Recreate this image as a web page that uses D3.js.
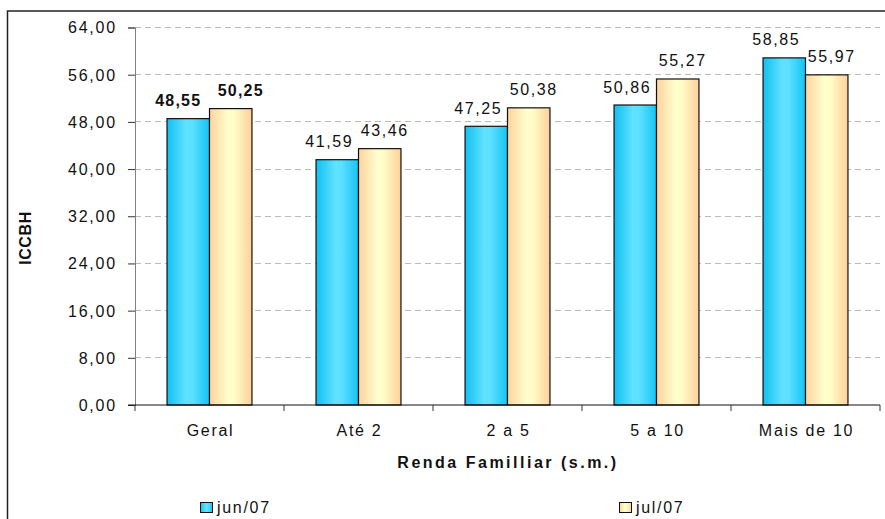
<!DOCTYPE html>
<html><head><meta charset="utf-8">
<script src="https://cdn.jsdelivr.net/npm/d3@7"></script>
<style>body{margin:0;background:#fff}svg{display:block}text{font-family:"Liberation Sans",Arial,sans-serif}</style>
</head><body>
<svg id="c" width="885" height="519"></svg>
<script>
const categories = ["Geral", "Até 2", "2 a 5", "5 a 10", "Mais de 10"];
const seriesNames = ["jun/07", "jul/07"];
const jun07 = [48.55, 41.59, 47.25, 50.86, 58.85];
const jul07 = [50.25, 43.46, 50.38, 55.27, 55.97];
const yTicks = [0, 8, 16, 24, 32, 40, 48, 56, 64];
const yLabel = "ICCBH";
const xLabel = "Renda Familliar (s.m.)";

const svg = d3.select("#c");
const defs = svg.append("defs");
function grad(id, stops){
  const g = defs.append("linearGradient").attr("id", id).attr("x1","0").attr("x2","1").attr("y1","0").attr("y2","0");
  stops.forEach(s => g.append("stop").attr("offset", s[0]).attr("stop-color", s[1]));
}
grad("gJun", [[0,"#12bff0"],[0.45,"#5fe2ff"],[0.6,"#5ce0ff"],[1,"#14c4f4"]]);
grad("gJul", [[0,"#ffd39e"],[0.45,"#ffffcc"],[0.6,"#fffcc6"],[1,"#ffcf9a"]]);
const fills = ["url(#gJun)", "url(#gJul)"];

// frame
svg.append("rect").attr("x",7.5).attr("y",11).attr("width",890).attr("height",520)
  .attr("fill","none").attr("stroke","#222").attr("stroke-width",1.5);

const y = d3.scaleLinear().domain([0,64]).range([405,27.5]);
const x0 = d3.scaleBand().domain(categories).range([135,880]).padding(0);
const bw = x0.bandwidth();
const x1 = d3.scaleBand().domain(seriesNames).range([bw*0.215, bw*0.785]).padding(0);

// grid
svg.append("g").selectAll("line").data(yTicks.filter(t=>t>0)).join("line")
  .attr("x1",135).attr("x2",880).attr("y1",d=>y(d)).attr("y2",d=>y(d))
  .attr("stroke","#bbb").attr("stroke-dasharray","6,4").attr("shape-rendering","crispEdges");

// y axis
const yAxis = d3.axisLeft(y).tickValues(yTicks).tickSize(7).tickPadding(11)
  .tickFormat(d => d3.format(".2f")(d).replace(".", ","));
const gy = svg.append("g").attr("transform","translate(135,0)").call(yAxis);
gy.select(".domain").attr("stroke","#808080");
gy.selectAll(".tick line").attr("stroke","#333");
gy.selectAll(".tick text").attr("font-size",16).attr("letter-spacing","1.8px")
  .attr("font-family","'Liberation Sans',Arial,sans-serif").attr("fill","#111").attr("dy","0.34em");

// bars
const data = categories.map((c,i)=>({c, v:[jun07[i], jul07[i]]}));
const groups = svg.append("g").selectAll("g").data(data).join("g")
  .attr("transform", d => `translate(${x0(d.c)},0)`);
groups.selectAll("rect").data((d)=>d.v.map((v,j)=>({v,j}))).join("rect")
  .attr("x", d=>x1(seriesNames[d.j])).attr("width", x1.bandwidth())
  .attr("y", d=>y(d.v)).attr("height", d=>y(0)-y(d.v))
  .attr("fill", d=>fills[d.j]).attr("stroke","#111").attr("stroke-width",1.2);
// label nudges (to keep adjacent labels apart, like the original)
const labelShift = [-8, 5];
groups.selectAll("text").data((d,i)=>d.v.map((v,j)=>({v,j,i}))).join("text")
  .attr("x", d=>x1(seriesNames[d.j]) + x1.bandwidth()/2 + labelShift[d.j] + (d.i===0 ? (d.j? 5 : -2) : 0))
  .attr("y", d=>y(d.v)-12.5)
  .attr("text-anchor","middle").attr("font-size",16).attr("letter-spacing", d=>d.i===0 ? "1.2px" : "1.6px")
  .attr("font-weight", d=>d.i===0 ? "bold" : "normal").attr("fill","#111")
  .text(d=>d3.format(".2f")(d.v).replace(".", ","));

// x axis
const gx = svg.append("g").attr("transform","translate(0,405)");
gx.append("line").attr("x1",128).attr("x2",880).attr("y1",0).attr("y2",0).attr("stroke","#111");
const bounds = categories.map(c=>x0(c)).concat([x0(categories[categories.length-1])+bw]);
gx.selectAll("line.t").data(bounds).join("line").attr("class","t")
  .attr("x1",d=>d).attr("x2",d=>d).attr("y1",0).attr("y2",6).attr("stroke","#333");
gx.selectAll("text").data(categories).join("text")
  .attr("x", d=>x0(d)+bw/2+1).attr("y",30.5).attr("text-anchor","middle")
  .attr("font-size",16).attr("letter-spacing","1.7px").attr("fill","#111").text(d=>d);

// axis titles
svg.append("text").attr("x",508).attr("y",468).attr("text-anchor","middle")
  .attr("font-size",16).attr("font-weight","bold").attr("letter-spacing","2.5px").attr("fill","#111").text(xLabel);
svg.append("text").attr("transform","translate(31,238) rotate(-90)").attr("text-anchor","middle")
  .attr("font-size",16).attr("font-weight","bold").attr("letter-spacing","0.6px").attr("fill","#111").text(yLabel);

// legend
const legX = [200, 619];
const lg = svg.append("g").selectAll("g").data(seriesNames).join("g")
  .attr("transform",(d,i)=>`translate(${legX[i]},502)`);
lg.append("rect").attr("x",0.5).attr("y",0.5).attr("width",12).attr("height",10)
  .attr("fill",(d,i)=>fills[i]).attr("stroke","#111").attr("stroke-width",1);
lg.append("text").attr("x",17).attr("y",11).attr("font-size",16).attr("letter-spacing","1.7px")
  .attr("fill","#111").text(d=>d);
</script>
</body></html>
